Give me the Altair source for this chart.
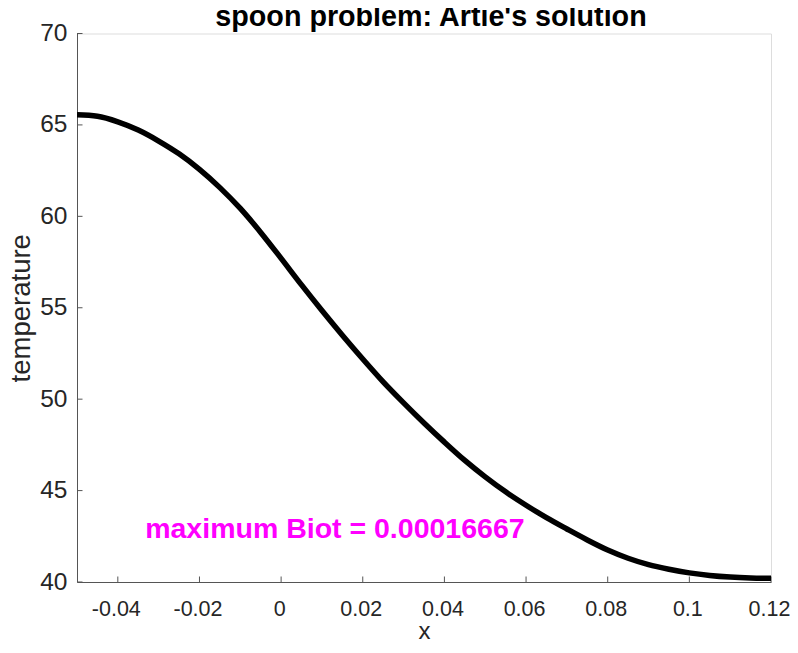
import altair as alt
import pandas as pd

x_vals = [-0.05, -0.045, -0.04, -0.035, -0.03, -0.025, -0.02, -0.015, -0.01, -0.005,
          0.0, 0.005, 0.01, 0.015, 0.02, 0.025, 0.03, 0.035, 0.04, 0.045,
          0.05, 0.055, 0.06, 0.065, 0.07, 0.075, 0.08, 0.085, 0.09, 0.095,
          0.1, 0.105, 0.11, 0.115, 0.12]
temp_vals = [65.55, 65.47, 65.17, 64.72, 64.12, 63.42, 62.57, 61.57, 60.43, 59.12,
             57.7, 56.25, 54.85, 53.5, 52.2, 50.95, 49.8, 48.7, 47.65, 46.65,
             45.75, 44.93, 44.2, 43.52, 42.9, 42.3, 41.75, 41.3, 40.95, 40.7,
             40.5, 40.36, 40.27, 40.22, 40.2]

x_ticks = [-0.04, -0.02, 0, 0.02, 0.04, 0.06, 0.08, 0.1, 0.12]
y_ticks = [40, 45, 50, 55, 60, 65, 70]

title_text = ["spoon problem: Artie's solution"]
note_text = ["maximum Biot = 0.00016667"]
note_x = [-0.0333]
note_y = [42.4]

W, H = 694, 548.5
FONT = "Liberation Sans"
AX = "#262626"
GRAY = "#555555"

xs = alt.Scale(domain=[-0.05, 0.12], nice=False, zero=False)
ys = alt.Scale(domain=[40, 70], nice=False, zero=False)

curve = pd.DataFrame({"x": x_vals, "t": temp_vals})
xt = pd.DataFrame({"v": x_ticks})
yt = pd.DataFrame({"v": y_ticks})
note = pd.DataFrame({"label": note_text, "x": note_x, "y": note_y})
ttl = pd.DataFrame({"label": title_text})

line = alt.Chart(curve).mark_line(color="black", strokeWidth=5.5, interpolate="monotone", clip=True).encode(
    x=alt.X("x:Q", scale=xs, axis=alt.Axis(
        values=x_ticks, title="x", labelExpr="'' + datum.value", labelFlush=False, labelOffset=-2,
        grid=False, ticks=False, tickSize=0, domainColor=GRAY, domainWidth=1,
        labelFont=FONT, labelFontSize=21.5, labelColor=AX, labelPadding=16,
        titleFont=FONT, titleFontSize=24, titleFontWeight="normal", titleColor=AX, titlePadding=0)),
    y=alt.Y("t:Q", scale=ys, axis=alt.Axis(
        values=y_ticks, title="temperature", labelFlush=False,
        grid=False, ticks=False, tickSize=0, domainColor=GRAY, domainWidth=1,
        labelFont=FONT, labelFontSize=24.5, labelColor=AX, labelPadding=10,
        titleFont=FONT, titleFontSize=27.5, titleFontWeight="normal", titleColor=AX, titlePadding=4)),
)

xtick_marks = alt.Chart(xt).mark_rule(color=GRAY, strokeWidth=1).encode(
    x=alt.X("v:Q", scale=xs), y=alt.value(H), y2=alt.value(H - 5.5))
ytick_marks = alt.Chart(yt).mark_rule(color=GRAY, strokeWidth=1).encode(
    y=alt.Y("v:Q", scale=ys), x=alt.value(0), x2=alt.value(5.5))

text = alt.Chart(note).mark_text(color="#FF00FF", font=FONT, fontSize=28.5, fontWeight="bold",
                                 align="left", baseline="alphabetic").encode(
    x=alt.X("x:Q", scale=xs), y=alt.Y("y:Q", scale=ys), text="label:N")

title = alt.Chart(ttl).mark_text(color="black", font=FONT, fontSize=28.7, fontWeight="bold",
                                 align="center", baseline="alphabetic").encode(
    x=alt.value(354), y=alt.value(-7.5), text="label:N")

chart = alt.layer(xtick_marks, ytick_marks, line, text, title).properties(
    width=W, height=H,
    autosize=alt.AutoSizeParams(type="none"),
    padding={"left": 69, "top": 25.5, "right": 19, "bottom": 63},
).configure_view(stroke=None).configure(background="white")

chart.save("out.html", embed_options={"renderer": "svg", "actions": False})
